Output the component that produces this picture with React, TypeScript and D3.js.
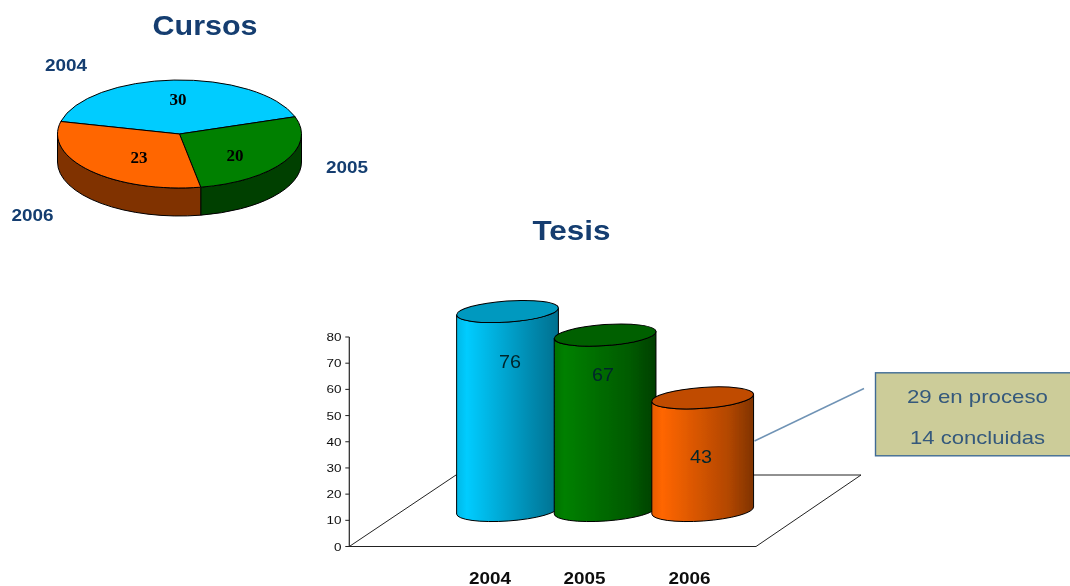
import React from "react";
import * as d3 from "d3";

const years = ["2004", "2005", "2006"];
const cursosValues = [30, 20, 23];
const tesisValues = [76, 67, 43];
const yTicks = [0, 10, 20, 30, 40, 50, 60, 70, 80];
const calloutLines = ["29 en proceso", "14 concluidas"];

const topColors = ["#00ccff", "#008000", "#ff6600"];
const sideColors = ["#006680", "#004000", "#803300"];
const capColors = ["#0099bf", "#006000", "#c04c00"];
const bodyStops = [
  ["#00b8e6", "#00ccff", "#0088ad", "#00708f"],
  ["#007000", "#008000", "#005a00", "#003f00"],
  ["#e65c00", "#ff6600", "#b34700", "#803300"],
];

const NAVY = "#123d70";
const FONT = "'Liberation Sans', Arial, sans-serif";

// pie layout
const PIE = { cx: 179.5, cy: 134, rx: 122, ry: 54, depth: 28, start: -76.6 };
const pieLabelFracX = [0.25, 0.53, 0.455];
const pieLabelFracY = [0.65, 0.76, 0.63];
const pieYearPos = [
  { x: 66, y: 71 },
  { x: 347, y: 172.5 },
  { x: 32.5, y: 221 },
];

// bar layout
const AXIS = { x: 349.3, y0: 546.5, y80: 337, frontRight: 756, backRight: 861, backLeft: 456, backY: 475 };
const CYL = { rx: 51, ry: 10.5, tilt: -4, lift: 36 };
const cylLabelY = [368, 381, 462.5];
const cylLabelX = [510, 603, 701];
const yearLabelX = [490, 584.5, 689.5];

function ellipsePoint(a: number, dy = 0) {
  return [PIE.cx + PIE.rx * Math.sin(a), PIE.cy - PIE.ry * Math.cos(a) + dy];
}

function wallPath(a0: number, a1: number) {
  const lo = Math.max(a0, Math.PI / 2);
  const hi = Math.min(a1, (3 * Math.PI) / 2);
  if (hi <= lo) return null;
  const p0 = ellipsePoint(lo);
  const p1 = ellipsePoint(hi);
  const r = `${PIE.rx} ${PIE.ry}`;
  return `M${p0} A${r} 0 0 1 ${p1} L${p1[0]} ${p1[1] + PIE.depth} A${r} 0 0 0 ${p0[0]} ${p0[1] + PIE.depth} Z`;
}

export default function App() {
  const start = (PIE.start * Math.PI) / 180;
  const slices = d3
    .pie<number>()
    .sort(null)
    .startAngle(start)
    .endAngle(start + 2 * Math.PI)(cursosValues);
  const arc = d3.arc<d3.PieArcDatum<number>>().innerRadius(0).outerRadius(PIE.rx);

  const y = d3.scaleLinear().domain([0, 80]).range([AXIS.y0, AXIS.y80]);
  const x = d3.scalePoint<string>().domain(years).range([507.5, 702.7]);
  const t = (CYL.tilt * Math.PI) / 180;
  const ex = CYL.rx * Math.cos(t);
  const ey = CYL.rx * Math.sin(t);
  const base = AXIS.y0 - CYL.lift;

  return (
    <svg width={1070} height={586} style={{ position: "absolute", left: 0, top: 0, background: "#fff" }}>
      <defs>
        <filter id="soft" x="0" y="0" width="100%" height="100%">
          <feGaussianBlur stdDeviation="0.35" />
        </filter>
        {bodyStops.map((s, i) => (
          <linearGradient key={i} id={`cyl${i}`} x1="0" x2="1" y1="0" y2="0">
            <stop offset="0" stopColor={s[0]} />
            <stop offset="0.1" stopColor={s[1]} />
            <stop offset="0.75" stopColor={s[2]} />
            <stop offset="1" stopColor={s[3]} />
          </linearGradient>
        ))}
      </defs>
      <g filter="url(#soft)" fontFamily={FONT}>
        <text x={205} y={35} textAnchor="middle" fontSize={28} fontWeight="bold" fill={NAVY} textLength={105} lengthAdjust="spacingAndGlyphs">Cursos</text>
        <text x={571.5} y={240} textAnchor="middle" fontSize={28} fontWeight="bold" fill={NAVY} textLength={78} lengthAdjust="spacingAndGlyphs">Tesis</text>

        {/* pie walls */}
        {slices.map((s, i) => {
          const d = wallPath(s.startAngle, s.endAngle);
          if (!d) return null;
          return <path key={i} d={d} fill={sideColors[i]} stroke="#000" strokeWidth={1} />;
        })}
        {/* pie top */}
        <g transform={`translate(${PIE.cx},${PIE.cy}) scale(1,${PIE.ry / PIE.rx})`}>
          {slices.map((s, i) => (
            <path key={i} d={arc(s) || ""} fill={topColors[i]} stroke="#000" strokeWidth={1} vectorEffect="non-scaling-stroke" />
          ))}
        </g>
        {slices.map((s, i) => {
          const mid = (s.startAngle + s.endAngle) / 2;
          const px = PIE.cx + PIE.rx * pieLabelFracX[i] * Math.sin(mid);
          const py = PIE.cy - PIE.ry * pieLabelFracY[i] * Math.cos(mid);
          return (
            <text key={i} x={px} y={py + 6} textAnchor="middle" fontFamily="'Liberation Serif', serif" fontWeight="bold" fontSize={17} fill="#000">
              {cursosValues[i]}
            </text>
          );
        })}
        {years.map((yr, i) => (
          <text key={yr} x={pieYearPos[i].x} y={pieYearPos[i].y} textAnchor="middle" fontSize={16} fontWeight="bold" fill={NAVY} textLength={42} lengthAdjust="spacingAndGlyphs">{yr}</text>
        ))}

        {/* floor */}
        <path
          d={`M${AXIS.x} ${AXIS.y0} L${AXIS.backLeft} ${AXIS.backY} L${AXIS.backRight} ${AXIS.backY} L${AXIS.frontRight} ${AXIS.y0} Z`}
          fill="#fff"
          stroke="#222"
          strokeWidth={1}
        />
        <line x1={AXIS.x} x2={AXIS.frontRight} y1={AXIS.y0} y2={AXIS.y0} stroke="#222" strokeWidth={1.2} />
        <line x1={AXIS.x} x2={AXIS.x} y1={y(0)} y2={y(80)} stroke="#222" strokeWidth={1.2} />
        {yTicks.map((v) => (
          <g key={v}>
            <line x1={AXIS.x - 4} x2={AXIS.x} y1={y(v)} y2={y(v)} stroke="#222" strokeWidth={1} />
            <text x={341.5} y={y(v) + 4} textAnchor="end" fontSize={11} fill="#111" textLength={v === 0 ? 7.5 : 15} lengthAdjust="spacingAndGlyphs">{v}</text>
          </g>
        ))}

        {/* cylinders */}
        {years.map((yr, i) => {
          const c = x(yr) as number;
          const top = base - (y(0) - y(tesisValues[i]));
          const arcR = `${CYL.rx} ${CYL.ry} ${CYL.tilt}`;
          const body = `M${c - ex} ${top - ey} L${c - ex} ${base - ey} A${arcR} 0 0 ${c + ex} ${base + ey} L${c + ex} ${top + ey} A${arcR} 0 1 ${c - ex} ${top - ey} Z`;
          return (
            <g key={yr}>
              <path d={body} fill={`url(#cyl${i})`} stroke="#000" strokeWidth={1} />
              <ellipse cx={0} cy={0} rx={CYL.rx} ry={CYL.ry} transform={`translate(${c},${top}) rotate(${CYL.tilt})`} fill={capColors[i]} stroke="#000" strokeWidth={1} />
              <text x={cylLabelX[i]} y={cylLabelY[i]} textAnchor="middle" fontSize={17.5} fill="#06262c" textLength={22} lengthAdjust="spacingAndGlyphs">{tesisValues[i]}</text>
              <text x={yearLabelX[i]} y={584} textAnchor="middle" fontSize={16} fontWeight="bold" fill="#111" textLength={42} lengthAdjust="spacingAndGlyphs">{yr}</text>
            </g>
          );
        })}

        {/* callout */}
        <line x1={754.5} y1={441} x2={864} y2={388.5} stroke="#6f93b5" strokeWidth={1.4} />
        <rect x={875.5} y={372.8} width={200} height={83} fill="#cccc99" stroke="#3f6b94" strokeWidth={1.4} />
        <text x={977.5} y={403} textAnchor="middle" fontSize={18.5} fill="#34597c" textLength={141} lengthAdjust="spacingAndGlyphs">{calloutLines[0]}</text>
        <text x={977.5} y={444} textAnchor="middle" fontSize={18.5} fill="#34597c" textLength={135} lengthAdjust="spacingAndGlyphs">{calloutLines[1]}</text>
      </g>
    </svg>
  );
}
